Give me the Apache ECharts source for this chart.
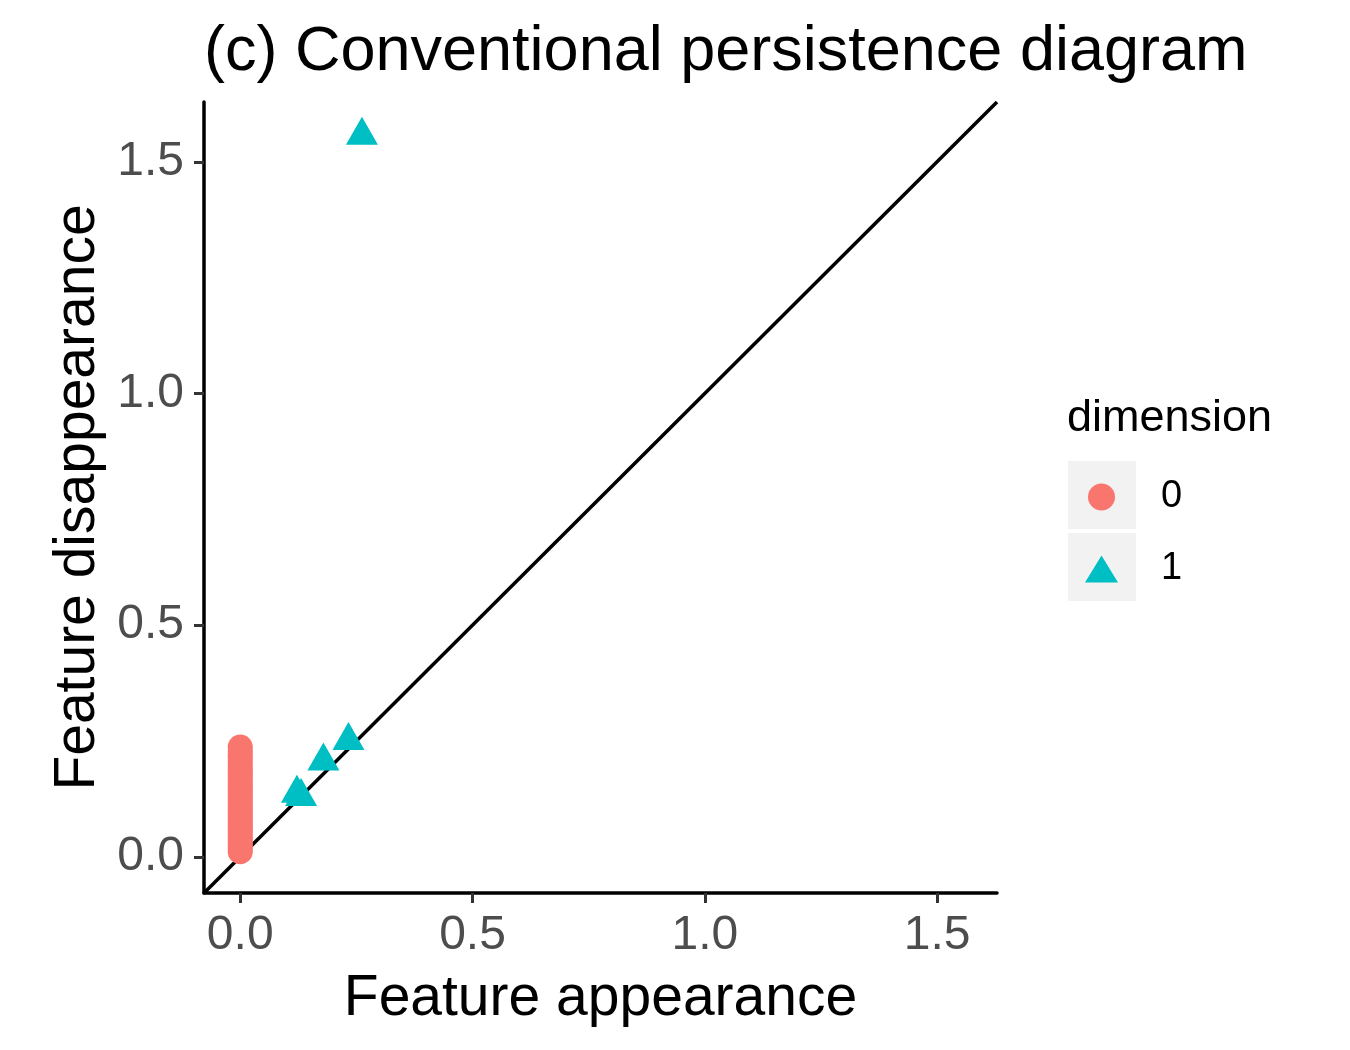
<!DOCTYPE html>
<html>
<head>
<meta charset="utf-8">
<title>Conventional persistence diagram</title>
<script src="https://cdn.jsdelivr.net/npm/echarts@6/dist/echarts.min.js"></script>
<style>
  html, body { margin: 0; padding: 0; background: #fff; }
  #chart { width: 1350px; height: 1050px; }
</style>
</head>
<body>
<div id="chart"></div>
<script>
// dimension 0 features: birth at 0, death values
const dim0Birth = 0;
const dim0Death = [0.011, 0.017, 0.024, 0.030, 0.037, 0.043, 0.050, 0.057, 0.064, 0.071,
  0.078, 0.085, 0.092, 0.099, 0.106, 0.113, 0.120, 0.127, 0.134, 0.141,
  0.148, 0.155, 0.162, 0.169, 0.176, 0.183, 0.190, 0.197, 0.205, 0.213,
  0.221, 0.229, 0.237];

// dimension 1 features (birth, death)
const dim1Birth = [0.122, 0.131, 0.179, 0.233, 0.262];
const dim1Death = [0.136, 0.129, 0.206, 0.250, 1.556];

// axis range and ticks
const axisMin = -0.078;
const axisMax = 1.629;
const tickValues = [0, 0.5, 1, 1.5];
const tickLabels = ["0.0", "0.5", "1.0", "1.5"];

const colors = ["#F8766D", "#00BFC4"];

const chart = echarts.init(document.getElementById("chart"), null, { renderer: "canvas" });

const labelFmt = (v) => tickLabels[tickValues.indexOf(v)] ?? "";

const axisCommon = {
  type: "value",
  min: axisMin,
  max: axisMax,
  nameLocation: "middle",
  nameTextStyle: { fontSize: 57, color: "#000", fontFamily: "Liberation Sans" },
  axisLine: { show: true, onZero: false, lineStyle: { color: "#000", width: 3.5 } },
  axisTick: { show: true, customValues: tickValues, length: 10, lineStyle: { color: "#333", width: 3 } },
  axisLabel: {
    customValues: tickValues,
    formatter: labelFmt,
    fontSize: 48,
    color: "#4D4D4D",
    fontFamily: "Liberation Sans"
  },
  splitLine: { show: false }
};

const option = {
  backgroundColor: "#fff",
  animation: false,
  title: {
    text: "(c) Conventional persistence diagram",
    left: 199,
    top: 16,
    textStyle: { fontSize: 63, fontWeight: "normal", color: "#000", fontFamily: "Liberation Sans" }
  },
  grid: { left: 204, right: 353, top: 102, bottom: 157, containLabel: false },
  xAxis: Object.assign({}, axisCommon, {
    name: "Feature appearance",
    nameGap: 78,
    axisLabel: Object.assign({}, axisCommon.axisLabel, { margin: 19 })
  }),
  yAxis: Object.assign({}, axisCommon, {
    name: "Feature disappearance",
    nameGap: 96,
    axisLabel: Object.assign({}, axisCommon.axisLabel, { margin: 20 })
  }),
  legend: {
    orient: "vertical",
    left: 1080,
    top: 473,
    itemWidth: 33,
    itemHeight: 27,
    itemGap: 34,
    z: 10,
    textStyle: { fontSize: 38, color: "#000", fontFamily: "Liberation Sans", padding: [0, 0, 0, 38] },
    data: [
      { name: "0", icon: "circle" },
      { name: "1", icon: "triangle" }
    ]
  },
  graphic: [
    { type: "rect", left: 1068, top: 461, z: 0, shape: { width: 68, height: 68 }, style: { fill: "#F2F2F2" } },
    { type: "rect", left: 1068, top: 533, z: 0, shape: { width: 68, height: 68 }, style: { fill: "#F2F2F2" } },
    {
      type: "text", left: 1067, top: 396, z: 10,
      style: { text: "dimension", fontSize: 45, fill: "#000", fontFamily: "Liberation Sans" }
    }
  ],
  series: [
    {
      // diagonal y = x
      type: "line",
      data: [[axisMin, axisMin], [axisMax, axisMax]],
      symbol: "none",
      lineStyle: { color: "#000", width: 3.5 },
      silent: true,
      z: 1
    },
    {
      name: "0",
      type: "scatter",
      data: dim0Death.map((d) => [dim0Birth, d]),
      symbol: "circle",
      symbolSize: 25,
      itemStyle: { color: colors[0], opacity: 1 },
      z: 3
    },
    {
      name: "1",
      type: "scatter",
      data: dim1Birth.map((b, i) => [b, dim1Death[i]]),
      symbol: "triangle",
      symbolSize: [32, 28],
      symbolOffset: [0, -5],
      itemStyle: { color: colors[1], opacity: 1 },
      z: 3
    }
  ]
};

chart.setOption(option);
</script>
</body>
</html>
